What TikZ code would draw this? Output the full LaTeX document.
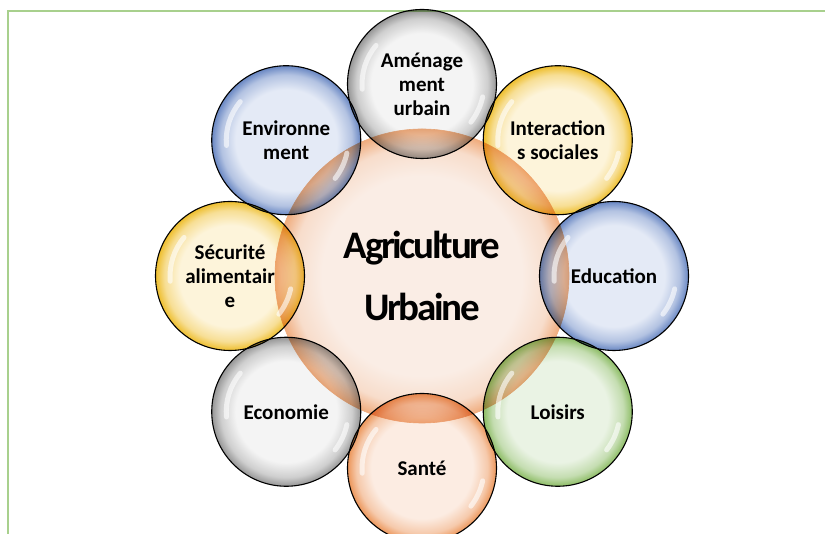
\documentclass[tikz,border=0pt]{standalone}
\usepackage{fontspec}
\setmainfont{Carlito}
\newfontfamily\titlefont[LetterSpace=-6]{Carlito}
\usepackage{tikz}
\usetikzlibrary{positioning, calc}
\definecolor{framegreen}{RGB}{168,208,141}
\definecolor{grayin}{RGB}{244,244,244}
\definecolor{grayout}{RGB}{150,150,150}
\definecolor{bluein}{RGB}{228,234,246}
\definecolor{blueout}{RGB}{105,135,195}
\definecolor{goldin}{RGB}{253,244,218}
\definecolor{goldout}{RGB}{238,190,45}
\definecolor{greenin}{RGB}{234,243,228}
\definecolor{greenout}{RGB}{140,188,100}
\definecolor{orangein}{RGB}{252,236,226}
\definecolor{orangeout}{RGB}{236,150,90}
\definecolor{peachin}{RGB}{250,237,229}
\definecolor{peachout}{RGB}{240,172,125}

\pgfdeclareradialshading[bubin,bubmid,bubout]{bubble}{\pgfpoint{0bp}{0bp}}{%
  color(0bp)=(bubin); color(17bp)=(bubin); color(22bp)=(bubmid); color(25bp)=(bubout); color(50bp)=(bubout)}

\begin{document}
\begin{tikzpicture}[
    x=1pt, y=1pt,
    bub/.style 2 args={circle, draw=black, line width=1.1pt, minimum size=149pt, inner sep=0pt,
        align=center, font=\fontsize{21}{24}\selectfont\bfseries,
        /utils/exec={\colorlet{bubin}{#1}\colorlet{bubout}{#2}\colorlet{bubmid}{#1!60!#2}},
        shade, shading=bubble},
    core/.style={circle, draw=peachout, line width=0.6pt, minimum size=294pt, inner sep=0pt,
        align=center, font=\titlefont\fontsize{39}{62}\selectfont\bfseries,
        /utils/exec={\colorlet{bubin}{peachin}\colorlet{bubout}{peachout}\colorlet{bubmid}{peachin!75!peachout}},
        shade, shading=bubble},
    gloss/.style={white, line width=5pt, line cap=round, opacity=0.6},
    frame/.style={framegreen, line width=1.3pt}
]
\useasboundingbox (0,0) rectangle (825,534);
\clip (0,0) rectangle (825,534);

% ========== CADRE ==========
\draw[frame] (825,523) -- (8,523) -- (8,0);

% ========== CERCLE CENTRAL ==========
\node[core] (agri) at (422,258) {Agriculture\\Urbaine};

% ========== CERCLES AUTOUR ==========
\begin{scope}[blend mode=multiply]
\node[bub={grayin}{grayout}] (amen) at ([shift={(90:192)}]agri.center) {Aménage\\ment\\urbain};
\node[bub={goldin}{goldout}] (inter) at ([shift={(45:192)}]agri.center) {Interaction\\s sociales};
\node[bub={bluein}{blueout}] (educ) at ([shift={(0:192)}]agri.center) {Education};
\node[bub={greenin}{greenout}] (lois) at ([shift={(-45:192)}]agri.center) {Loisirs};
\node[bub={orangein}{orangeout}] (sante) at ([shift={(-90:192)}]agri.center) {Santé};
\node[bub={grayin}{grayout}] (eco) at ([shift={(-135:192)}]agri.center) {Economie};
\node[bub={goldin}{goldout}] (secu) at ([shift={(180:192)}]agri.center) {Sécurité\\alimentair\\e};
\node[bub={bluein}{blueout}] (env) at ([shift={(135:192)}]agri.center) {Environne\\ment};
\end{scope}

% ========== REFLETS ==========
\foreach \n in {amen, inter, educ, lois, sante, eco, secu, env} {
    \draw[gloss] ($(\n.center)+(140:60)$) arc[start angle=140, end angle=185, radius=60];
    \draw[gloss] ($(\n.center)+(-12:62)$) arc[start angle=-12, end angle=-38, radius=62];
}

\end{tikzpicture}
\end{document}
